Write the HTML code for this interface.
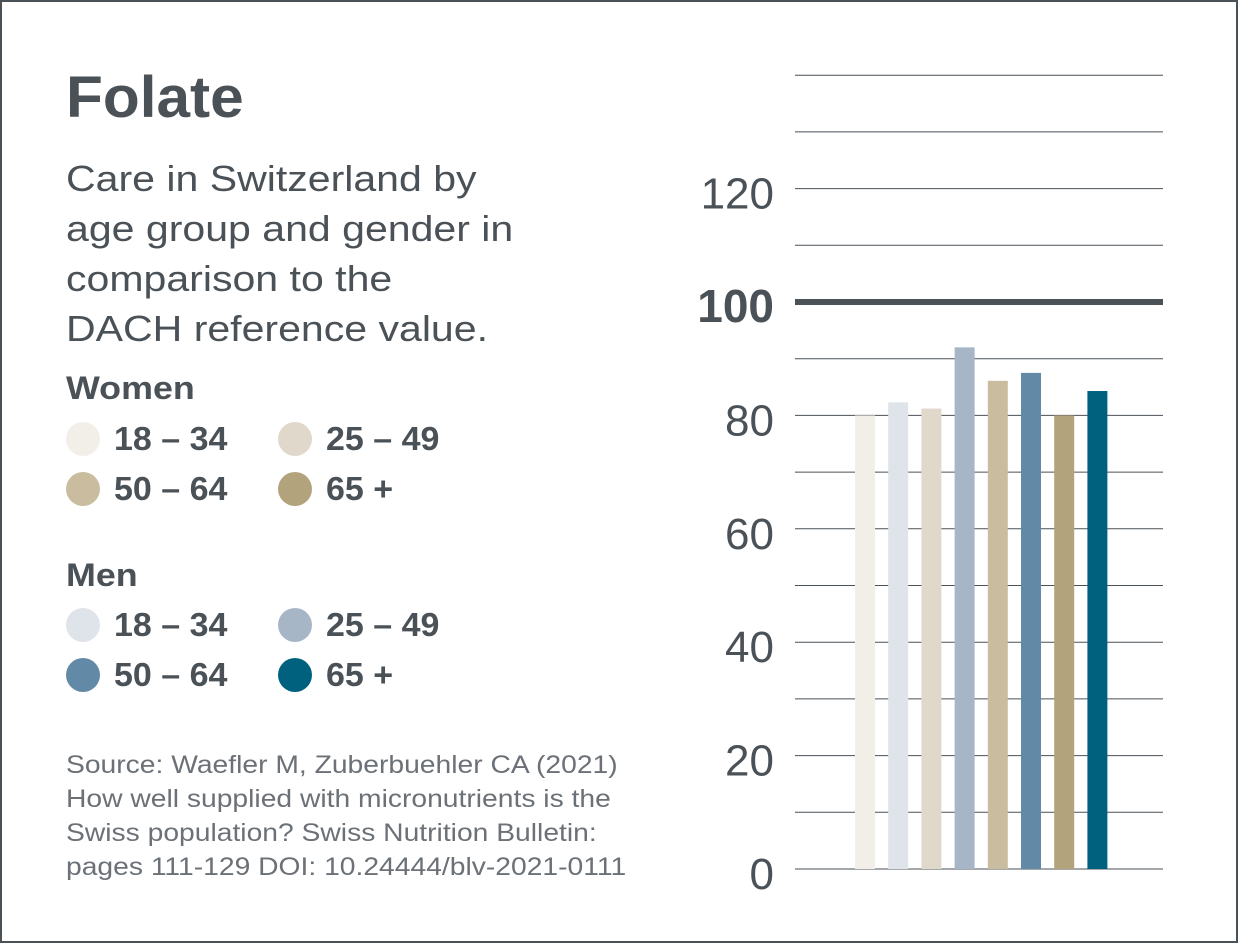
<!DOCTYPE html>
<html><head><meta charset="utf-8"><style>
body{margin:0;background:#fff;}
#frame{position:absolute;left:0;top:0;width:1234px;height:939px;border:2px solid #4a5157;background:#fff;font-family:"Liberation Sans",sans-serif;color:#4a5157;overflow:hidden;}
.t{position:absolute;white-space:nowrap;transform-origin:0 0;}
.dot{position:absolute;width:34px;height:34px;border-radius:50%;}
</style></head><body>
<div id="frame">
<div class="t" style="left:64px;top:62px;font-size:58px;font-weight:bold;transform:scaleX(1.04);">Folate</div>
<div class="t" style="left:64px;top:152px;font-size:36px;line-height:50px;transform:scaleX(1.14);">Care in Switzerland by<br>age group and gender in<br>comparison to the<br>DACH reference value.</div>
<div class="t" style="left:64px;top:368px;font-size:32px;font-weight:bold;transform:scaleX(1.12);">Women</div>
<div class="t" style="left:64px;top:555px;font-size:32px;font-weight:bold;transform:scaleX(1.12);">Men</div>
<div id="legend"></div>
<div class="t" style="left:64px;top:746px;font-size:25px;line-height:34px;color:#6b7177;transform:scaleX(1.13);">Source: Waefler M, Zuberbuehler CA (2021)<br>How well supplied with micronutrients is the<br>Swiss population? Swiss Nutrition Bulletin:<br>pages 111-129 DOI: 10.24444/blv-2021-0111</div>
<svg id="chart" width="1238" height="943" style="position:absolute;left:-2px;top:-2px;"></svg>
</div>
<script>
const categories=["Women 18–34","Men 18–34","Women 25–49","Men 25–49","Women 50–64","Men 50–64","Women 65+","Men 65+"];
const values=[80,82.3,81.2,92,86.1,87.5,80,84.3];
const colors=["#f2efe9","#dfe3ea","#e0d8ca","#a6b6c6","#c9bc9f","#628aa6","#b3a37c","#00617f"];
const tickLabels=[0,20,40,60,80,100,120];
const gridValues=[0,10,20,30,40,50,60,70,80,90,110,120,130,140];
const refValue=100;
const legendLabels=["18 – 34","25 – 49","50 – 64","65 +"];
const womenColors=["#f2efe9","#e0d8ca","#c9bc9f","#b3a37c"];
const menColors=["#dfe3ea","#a6b6c6","#628aa6","#00617f"];
const NS="http://www.w3.org/2000/svg";
const svg=document.getElementById('chart');
const y=v=>869-v*5.67;
const x=i=>855+i*33.2;
function mk(t,a){const e=document.createElementNS(NS,t);for(const k in a)e.setAttribute(k,a[k]);svg.appendChild(e);return e;}
gridValues.forEach(v=>{const l=mk('line',{x1:795,x2:1163,y1:y(v),y2:y(v),stroke:'#4a5157','stroke-width':1});

});
const r=mk('line',{x1:795,x2:1163,y1:y(refValue),y2:y(refValue),stroke:'#4a5157','stroke-width':6});


tickLabels.forEach(v=>{const t=mk('text',{x:774,y:y(v)+20,'text-anchor':'end','font-size':v===100?46:44,'font-weight':v===100?'bold':'normal',fill:'#4a5157','font-family':'Liberation Sans, sans-serif'});t.textContent=v;

});
values.forEach((v,i)=>{const b=mk('rect',{x:x(i),y:y(v),width:20,height:y(0)-y(v),fill:colors[i]});

});
const lg=document.getElementById('legend');
function addLegend(cols,top){cols.forEach((c,i)=>{const col=i%2,row=Math.floor(i/2);const lx=64+col*212,ly=top+row*50;
const d=document.createElement('div');d.className='dot';d.style.left=lx+'px';d.style.top=ly+'px';d.style.background=c;

lg.appendChild(d);
const t=document.createElement('div');t.className='t';t.style.left=(lx+48)+'px';t.style.top=(ly-2)+'px';t.style.fontSize='33px';t.style.fontWeight='bold';t.style.transform='scaleX(1.03)';t.textContent=legendLabels[i];

lg.appendChild(t);});}
addLegend(womenColors,420);addLegend(menColors,606);
</script>
</body></html>
